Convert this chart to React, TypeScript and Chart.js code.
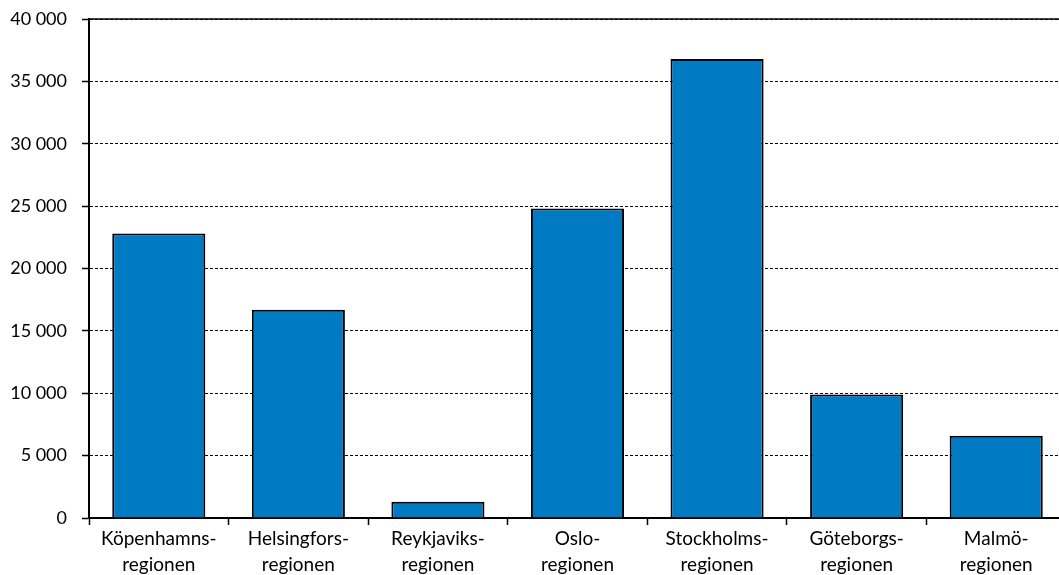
import React, { useEffect, useRef } from "react";
import { Chart, registerables } from "chart.js";

Chart.register(...registerables);

const categories: string[][] = [
  ["Köpenhamns-", "regionen"],
  ["Helsingfors-", "regionen"],
  ["Reykjaviks-", "regionen"],
  ["Oslo-", "regionen"],
  ["Stockholms-", "regionen"],
  ["Göteborgs-", "regionen"],
  ["Malmö-", "regionen"],
];
const values: number[] = [22800, 16700, 1300, 24800, 36800, 9900, 6600];
const yMin = 0;
const yMax = 40000;
const yStep = 5000;

const fmt = (v: number) => String(v).replace(/\B(?=(\d{3})+(?!\d))/g, " ");

const topLine = {
  id: "topLine",
  afterDraw(chart: any) {
    const { ctx, chartArea } = chart;
    ctx.save();
    ctx.strokeStyle = "#000";
    ctx.lineWidth = 1.5;
    ctx.beginPath();
    ctx.moveTo(chartArea.left, chartArea.top);
    ctx.lineTo(chartArea.right, chartArea.top);
    ctx.stroke();
    ctx.restore();
  },
};

export default function App() {
  const ref = useRef<HTMLCanvasElement>(null);
  useEffect(() => {
    if (!ref.current) return;
    const chart = new Chart(ref.current, {
      type: "bar",
      data: {
        labels: categories,
        datasets: [
          {
            data: values,
            backgroundColor: "#007AC2",
            borderColor: "#000",
            borderWidth: 2,
            barPercentage: 0.667,
            categoryPercentage: 1,
          },
        ],
      },
      plugins: [topLine],
      options: {
        animation: false,
        responsive: false,
        maintainAspectRatio: false,
        layout: { padding: { top: 19, right: 14, bottom: 0, left: 0 } },
        plugins: { legend: { display: false }, tooltip: { enabled: false } },
        scales: {
          x: {
            offset: true,
            grid: {
              display: true,
              drawOnChartArea: false,
              drawTicks: true,
              tickLength: 7,
              offset: true,
              tickColor: "#000",
              tickWidth: 1.5,
            },
            border: { display: true, color: "#000", width: 2 },
            ticks: {
              color: "#000",
              font: { family: "Lato", size: 19, lineHeight: 1.35 },
              padding: 1,
              maxRotation: 0,
              autoSkip: false,
            },
            afterFit(scale: any) {
              scale.height = 57;
              scale.paddingLeft = 0;
              scale.paddingRight = 0;
            },
          },
          y: {
            min: yMin,
            max: yMax,
            grid: {
              color: "#000",
              lineWidth: 1,
              tickLength: 7,
              tickColor: "#000",
              tickWidth: 1.5,
              tickBorderDash: [],
            },
            border: { display: true, color: "#000", width: 2, dash: [3, 2] },
            ticks: {
              stepSize: yStep,
              color: "#000",
              font: { family: "Lato", size: 18 },
              padding: 15,
              callback: (v: any) => fmt(Number(v)),
            },
            afterFit(scale: any) {
              scale.width = 89;
              scale.paddingTop = 0;
              scale.paddingBottom = 0;
            },
          },
        },
      },
    });
    return () => chart.destroy();
  }, []);
  return (
    <div
      style={{
        position: "fixed",
        left: 0,
        top: 0,
        width: 1059,
        height: 575,
        overflow: "hidden",
        background: "#fff",
      }}
    >
      <canvas ref={ref} width={1080} height={575} style={{ width: 1080, height: 575, display: "block" }} />
    </div>
  );
}
